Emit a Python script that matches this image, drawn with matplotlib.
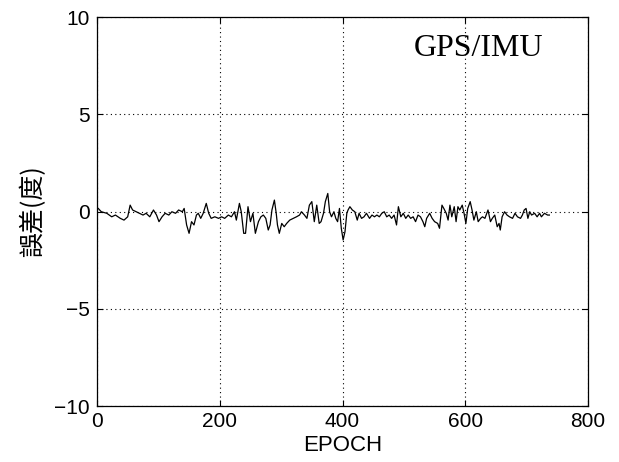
import matplotlib
matplotlib.use("Agg")
import matplotlib.pyplot as plt
import numpy as np

# Values (epoch, error in degrees)
epochs = [2, 7, 16, 24, 30, 38, 44, 50, 54, 58, 64, 69, 75, 80, 86, 92, 97, 101, 106, 111,
          117, 122, 128, 133, 139, 142, 146, 150, 154, 158, 162, 165, 169, 173, 178, 182, 186,
          192, 198, 203, 208, 214, 219, 224, 227, 232, 235, 239, 242, 246, 250, 254, 258, 263,
          267, 271, 275, 279, 282, 285, 289, 292, 294, 297, 301, 305, 309, 314, 320, 325, 330,
          333, 338, 342, 346, 350, 354, 358, 362,
          365, 369, 372, 376, 379, 382, 386, 389, 392, 395, 398, 401, 404, 407, 409, 412, 416,
          420, 424, 427, 431, 435, 439, 444, 448, 452, 456, 460, 464, 468, 472, 476, 480, 484,
          488, 491, 495, 499, 503, 507, 511, 515, 519, 523, 527, 531, 534, 537, 542,
          546, 550, 555, 558, 562, 565, 569, 572, 575, 578, 582, 585, 588, 591, 595, 598, 601,
          604, 608, 611, 614, 618, 621, 625, 628, 632, 637, 641, 644, 648, 652, 655, 657, 660,
          664, 668, 672, 677, 681, 685, 690, 693, 696, 699, 702, 705, 708, 713, 717, 721, 724,
          729, 734, 737]
errors = [0.16, -0.01, -0.09, -0.27, -0.18, -0.35, -0.44, -0.27, 0.33, 0.08, -0.01, -0.09,
          -0.18, -0.09, -0.27, 0.08, -0.18, -0.52, -0.27, -0.09, -0.18, -0.01, -0.09, 0.08,
          -0.01, 0.16, -0.69, -1.12, -0.52, -0.69, -0.18, -0.09, -0.35, -0.09, 0.42, -0.09,
          -0.35,
          -0.27, -0.35, -0.27, -0.35, -0.18, -0.27, -0.01, -0.44, 0.42, -0.01, -1.12, -1.12,
          0.25, -0.52, -0.09, -1.12, -0.52, -0.27, -0.18, -0.35, -0.95, -0.69, 0.08, 0.59,
          -0.09, -0.69, -1.12, -0.61, -0.78, -0.61, -0.44, -0.35, -0.27, -0.18, -0.01, -0.18,
          -0.35, 0.33, 0.51, -0.52, 0.33, -0.61,
          -0.52, -0.09, 0.51, 0.93, -0.01, -0.27, -0.01, -0.35, -0.52, 0.16, -0.86, -1.46,
          -1.04, -0.09, 0.08, 0.25, 0.08, -0.01, -0.44, -0.09, -0.35, -0.27, -0.09, -0.35,
          -0.18, -0.27, -0.18, -0.27, -0.09, -0.01, -0.27, -0.18, -0.35, -0.18, -0.69, 0.25,
          -0.27, -0.09, -0.35, -0.18, -0.35, -0.27, -0.52, -0.18, -0.27, -0.52, -0.78, -0.35,
          -0.09,
          -0.35, -0.52, -0.61, -0.86, 0.33, 0.16, -0.09, -0.44, 0.33, -0.27, 0.25, -0.52, 0.25,
          0.08, 0.33, -0.09, -0.61, 0.16, 0.51, 0.08, -0.44, -0.01, -0.52, -0.35, -0.27, -0.35,
          0.08, -0.52, -0.35, -0.18, -0.78, -0.61, -0.95, -0.27, -0.01, -0.18, -0.27, -0.35,
          -0.09, -0.27, -0.35, -0.18, 0.08, 0.16, -0.35, -0.01, -0.18, -0.09, -0.27, -0.09,
          -0.27, -0.09, -0.18, -0.18]

x_ticks = [0, 200, 400, 600, 800]
y_ticks = [-10, -5, 0, 5, 10]

plt.rcParams['font.family'] = ['Liberation Sans', 'DejaVu Sans']

fig = plt.figure(figsize=(6.19, 4.62), dpi=100)
ax = fig.add_axes([0.1567, 0.1212, 0.7933, 0.8418])

ax.plot(epochs, errors, color="black", linewidth=0.9)

ax.set_xlim(0, 800)
ax.set_ylim(-10, 10)
ax.set_xticks(x_ticks)
ax.set_yticks(y_ticks)
ax.set_yticklabels(["\u221210", "\u22125", "0", "5", "10"])
ax.grid(True, color="black", linestyle=(0, (1, 3)), linewidth=0.8)
ax.tick_params(direction="in", top=True, right=True, labelsize=15, length=4)
ax.tick_params(axis="x", pad=4)
ax.tick_params(axis="y", pad=5)
for s in ax.spines.values():
    s.set_linewidth(0.9)

ax.set_xlabel("EPOCH", fontsize=16, labelpad=3)
ax.set_ylabel("誤差(度)", fontsize=18, family=["Noto Sans CJK TC", "DejaVu Sans"], labelpad=6)
ax.text(622, 8.4, "GPS/IMU", fontsize=23, family="Liberation Serif",
        ha="center", va="center")

fig.savefig("out.png", dpi=100)
